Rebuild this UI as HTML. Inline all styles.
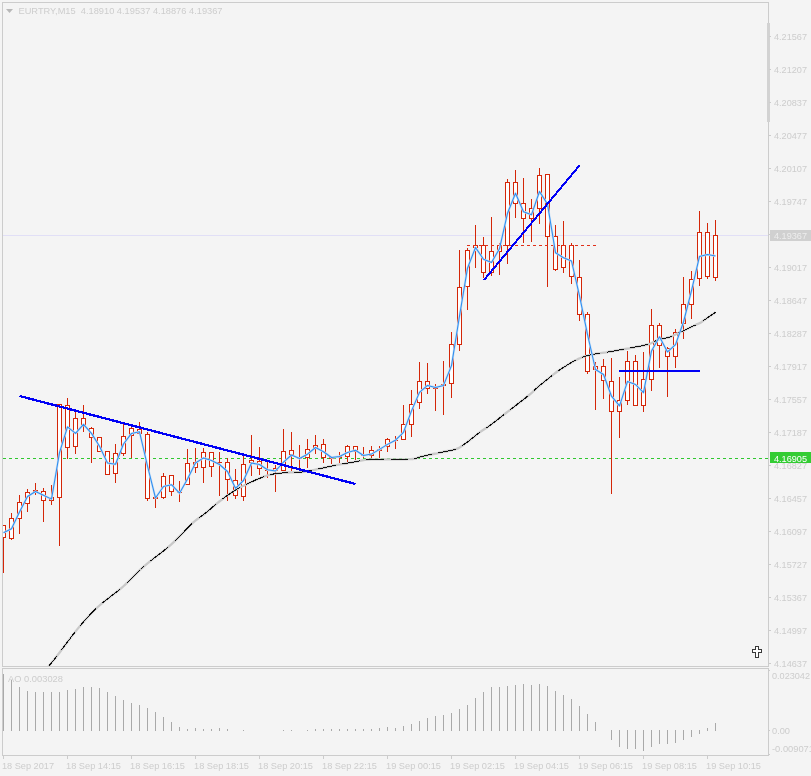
<!DOCTYPE html>
<html><head><meta charset="utf-8"><title>EURTRY,M15</title>
<style>
html,body{margin:0;padding:0;background:#f4f4f4;}
body{width:811px;height:776px;overflow:hidden;}
svg{display:block;}
text{font-family:"Liberation Sans",sans-serif;font-size:9.7px;fill:#cdcdcd;}
</style></head><body>
<svg width="811" height="776" viewBox="0 0 811 776">
<rect x="0" y="0" width="811" height="776" fill="#f4f4f4"/>
<g shape-rendering="crispEdges" fill="none" stroke="#cccccc" stroke-width="1">
<path d="M2.5 666.5 V2.5 H768.5 V666.5 H2.5"/>
<path d="M2.5 755.5 V668.5 H768.5 V755.5 H2.5"/>
</g>
<rect x="767" y="23" width="3" height="99" fill="#d2d2d2" shape-rendering="crispEdges"/>
<g shape-rendering="crispEdges" stroke="#cccccc" stroke-width="1">
<path d="M769 36.5 h2"/><path d="M769 69.5 h2"/><path d="M769 102.5 h2"/><path d="M769 135.5 h2"/><path d="M769 168.5 h2"/><path d="M769 201.5 h2"/><path d="M769 234.5 h2"/><path d="M769 267.5 h2"/><path d="M769 300.5 h2"/><path d="M769 333.5 h2"/><path d="M769 366.5 h2"/><path d="M769 399.5 h2"/><path d="M769 432.5 h2"/><path d="M769 465.5 h2"/><path d="M769 498.5 h2"/><path d="M769 531.5 h2"/><path d="M769 564.5 h2"/><path d="M769 597.5 h2"/><path d="M769 630.5 h2"/><path d="M769 663.5 h2"/><path d="M769 730.5 h1"/><path d="M769 754.5 h1"/><path d="M769 670.5 h1"/>
</g>
<g>
<text x="774" y="40" textLength="33" lengthAdjust="spacingAndGlyphs">4.21567</text>
<text x="774" y="73" textLength="33" lengthAdjust="spacingAndGlyphs">4.21207</text>
<text x="774" y="106" textLength="33" lengthAdjust="spacingAndGlyphs">4.20837</text>
<text x="774" y="139" textLength="33" lengthAdjust="spacingAndGlyphs">4.20477</text>
<text x="774" y="172" textLength="33" lengthAdjust="spacingAndGlyphs">4.20107</text>
<text x="774" y="205" textLength="33" lengthAdjust="spacingAndGlyphs">4.19747</text>
<text x="774" y="271" textLength="33" lengthAdjust="spacingAndGlyphs">4.19017</text>
<text x="774" y="304" textLength="33" lengthAdjust="spacingAndGlyphs">4.18647</text>
<text x="774" y="337" textLength="33" lengthAdjust="spacingAndGlyphs">4.18287</text>
<text x="774" y="370" textLength="33" lengthAdjust="spacingAndGlyphs">4.17917</text>
<text x="774" y="403" textLength="33" lengthAdjust="spacingAndGlyphs">4.17557</text>
<text x="774" y="436" textLength="33" lengthAdjust="spacingAndGlyphs">4.17187</text>
<text x="774" y="469" textLength="33" lengthAdjust="spacingAndGlyphs">4.16827</text>
<text x="774" y="502" textLength="33" lengthAdjust="spacingAndGlyphs">4.16457</text>
<text x="774" y="535" textLength="33" lengthAdjust="spacingAndGlyphs">4.16097</text>
<text x="774" y="568" textLength="33" lengthAdjust="spacingAndGlyphs">4.15727</text>
<text x="774" y="601" textLength="33" lengthAdjust="spacingAndGlyphs">4.15367</text>
<text x="774" y="634" textLength="33" lengthAdjust="spacingAndGlyphs">4.14997</text>
<text x="774" y="667" textLength="33" lengthAdjust="spacingAndGlyphs">4.14637</text>
<text x="772" y="679" textLength="38" lengthAdjust="spacingAndGlyphs">0.023042</text>
<text x="772" y="734" textLength="18" lengthAdjust="spacingAndGlyphs">0.00</text>
<text x="772" y="752" textLength="42" lengthAdjust="spacingAndGlyphs">-0.009071</text>
</g>
<g shape-rendering="crispEdges">
<rect x="3" y="235" width="765" height="1" fill="#e1dff6"/>
<rect x="770" y="230" width="41" height="11" fill="#d0d0d0"/>
<path d="M3 458.5 H768" stroke="#2fc72f" stroke-width="1" stroke-dasharray="3 3" fill="none"/>
<rect x="770" y="452" width="41" height="11" fill="#33cc33"/>
</g>
<text x="774" y="239" textLength="33" lengthAdjust="spacingAndGlyphs" style="fill:#ededed">4.19367</text>
<text x="774" y="461.5" textLength="33" lengthAdjust="spacingAndGlyphs" style="fill:#ffffff">4.16905</text>
<defs><clipPath id="cm"><rect x="3" y="3" width="765" height="663"/></clipPath></defs>
<g clip-path="url(#cm)">
<g shape-rendering="crispEdges" fill="#d42608">
<rect x="3" y="538" width="1" height="35"/><rect x="1" y="525" width="5" height="13"/><rect x="2" y="526" width="3" height="11" fill="#ffffff"/>
<rect x="11" y="513" width="1" height="5"/><rect x="11" y="539" width="1" height="1"/><rect x="9" y="518" width="5" height="21"/><rect x="10" y="519" width="3" height="19" fill="#ffffff"/>
<rect x="19" y="495" width="1" height="7"/><rect x="19" y="519" width="1" height="15"/><rect x="17" y="502" width="5" height="17"/><rect x="18" y="503" width="3" height="15" fill="#ffffff"/>
<rect x="27" y="489" width="1" height="3"/><rect x="27" y="504" width="1" height="8"/><rect x="25" y="492" width="5" height="12"/><rect x="26" y="493" width="3" height="10" fill="#ffffff"/>
<rect x="35" y="483" width="1" height="7"/><rect x="35" y="493" width="1" height="2"/><rect x="33" y="490" width="5" height="3"/><rect x="34" y="491" width="3" height="1" fill="#ffffff"/>
<rect x="43" y="488" width="1" height="3"/><rect x="43" y="501" width="1" height="21"/><rect x="41" y="491" width="5" height="10"/><rect x="42" y="492" width="3" height="8" fill="#ffffff"/>
<rect x="51" y="485" width="1" height="12"/><rect x="51" y="501" width="1" height="4"/><rect x="49" y="497" width="5" height="4"/><rect x="50" y="498" width="3" height="2" fill="#ffffff"/>
<rect x="59" y="498" width="1" height="48"/><rect x="57" y="404" width="5" height="94"/><rect x="58" y="405" width="3" height="92" fill="#ffffff"/>
<rect x="67" y="398" width="1" height="7"/><rect x="67" y="448" width="1" height="11"/><rect x="65" y="405" width="5" height="43"/><rect x="66" y="406" width="3" height="41" fill="#ffffff"/>
<rect x="75" y="411" width="1" height="7"/><rect x="75" y="447" width="1" height="7"/><rect x="73" y="418" width="5" height="29"/><rect x="74" y="419" width="3" height="27" fill="#ffffff"/>
<rect x="83" y="405" width="1" height="13"/><rect x="83" y="427" width="1" height="5"/><rect x="81" y="418" width="5" height="9"/><rect x="82" y="419" width="3" height="7" fill="#ffffff"/>
<rect x="91" y="427" width="1" height="1"/><rect x="91" y="438" width="1" height="25"/><rect x="89" y="428" width="5" height="10"/><rect x="90" y="429" width="3" height="8" fill="#ffffff"/>
<rect x="97" y="437" width="5" height="15"/><rect x="98" y="438" width="3" height="13" fill="#ffffff"/>
<rect x="105" y="451" width="5" height="24"/><rect x="106" y="452" width="3" height="22" fill="#ffffff"/>
<rect x="115" y="444" width="1" height="9"/><rect x="115" y="474" width="1" height="9"/><rect x="113" y="453" width="5" height="21"/><rect x="114" y="454" width="3" height="19" fill="#ffffff"/>
<rect x="123" y="424" width="1" height="12"/><rect x="123" y="454" width="1" height="2"/><rect x="121" y="436" width="5" height="18"/><rect x="122" y="437" width="3" height="16" fill="#ffffff"/>
<rect x="131" y="426" width="1" height="2"/><rect x="131" y="436" width="1" height="22"/><rect x="129" y="428" width="5" height="8"/><rect x="130" y="429" width="3" height="6" fill="#ffffff"/>
<rect x="139" y="422" width="1" height="7"/><rect x="139" y="434" width="1" height="1"/><rect x="137" y="429" width="5" height="5"/><rect x="138" y="430" width="3" height="3" fill="#ffffff"/>
<rect x="147" y="432" width="1" height="2"/><rect x="147" y="499" width="1" height="2"/><rect x="145" y="434" width="5" height="65"/><rect x="146" y="435" width="3" height="63" fill="#ffffff"/>
<rect x="155" y="496" width="1" height="1"/><rect x="155" y="499" width="1" height="9"/><rect x="153" y="497" width="5" height="2"/>
<rect x="163" y="473" width="1" height="3"/><rect x="163" y="498" width="1" height="1"/><rect x="161" y="476" width="5" height="22"/><rect x="162" y="477" width="3" height="20" fill="#ffffff"/>
<rect x="171" y="492" width="1" height="4"/><rect x="169" y="475" width="5" height="17"/><rect x="170" y="476" width="3" height="15" fill="#ffffff"/>
<rect x="179" y="481" width="1" height="11"/><rect x="179" y="493" width="1" height="9"/><rect x="177" y="492" width="5" height="1"/>
<rect x="187" y="449" width="1" height="14"/><rect x="185" y="463" width="5" height="22"/><rect x="186" y="464" width="3" height="20" fill="#ffffff"/>
<rect x="195" y="448" width="1" height="14"/><rect x="195" y="468" width="1" height="5"/><rect x="193" y="462" width="5" height="6"/><rect x="194" y="463" width="3" height="4" fill="#ffffff"/>
<rect x="203" y="448" width="1" height="4"/><rect x="203" y="468" width="1" height="15"/><rect x="201" y="452" width="5" height="16"/><rect x="202" y="453" width="3" height="14" fill="#ffffff"/>
<rect x="211" y="467" width="1" height="10"/><rect x="209" y="452" width="5" height="15"/><rect x="210" y="453" width="3" height="13" fill="#ffffff"/>
<rect x="219" y="452" width="1" height="10"/><rect x="219" y="463" width="1" height="33"/><rect x="217" y="462" width="5" height="1"/>
<rect x="227" y="458" width="1" height="4"/><rect x="227" y="480" width="1" height="21"/><rect x="225" y="462" width="5" height="18"/><rect x="226" y="463" width="3" height="16" fill="#ffffff"/>
<rect x="235" y="469" width="1" height="11"/><rect x="235" y="496" width="1" height="3"/><rect x="233" y="480" width="5" height="16"/><rect x="234" y="481" width="3" height="14" fill="#ffffff"/>
<rect x="243" y="456" width="1" height="8"/><rect x="243" y="497" width="1" height="4"/><rect x="241" y="464" width="5" height="33"/><rect x="242" y="465" width="3" height="31" fill="#ffffff"/>
<rect x="251" y="435" width="1" height="25"/><rect x="251" y="463" width="1" height="13"/><rect x="249" y="460" width="5" height="3"/><rect x="250" y="461" width="3" height="1" fill="#ffffff"/>
<rect x="259" y="447" width="1" height="14"/><rect x="259" y="469" width="1" height="6"/><rect x="257" y="461" width="5" height="8"/><rect x="258" y="462" width="3" height="6" fill="#ffffff"/>
<rect x="267" y="461" width="1" height="9"/><rect x="267" y="471" width="1" height="7"/><rect x="265" y="470" width="5" height="1"/>
<rect x="275" y="465" width="1" height="3"/><rect x="275" y="471" width="1" height="21"/><rect x="273" y="468" width="5" height="3"/><rect x="274" y="469" width="3" height="1" fill="#ffffff"/>
<rect x="283" y="429" width="1" height="22"/><rect x="281" y="451" width="5" height="20"/><rect x="282" y="452" width="3" height="18" fill="#ffffff"/>
<rect x="291" y="432" width="1" height="18"/><rect x="291" y="455" width="1" height="16"/><rect x="289" y="450" width="5" height="5"/><rect x="290" y="451" width="3" height="3" fill="#ffffff"/>
<rect x="299" y="445" width="1" height="12"/><rect x="299" y="459" width="1" height="9"/><rect x="297" y="457" width="5" height="2"/>
<rect x="307" y="439" width="1" height="10"/><rect x="307" y="458" width="1" height="10"/><rect x="305" y="449" width="5" height="9"/><rect x="306" y="450" width="3" height="7" fill="#ffffff"/>
<rect x="315" y="435" width="1" height="10"/><rect x="315" y="448" width="1" height="6"/><rect x="313" y="445" width="5" height="3"/><rect x="314" y="446" width="3" height="1" fill="#ffffff"/>
<rect x="323" y="439" width="1" height="5"/><rect x="323" y="458" width="1" height="5"/><rect x="321" y="444" width="5" height="14"/><rect x="322" y="445" width="3" height="12" fill="#ffffff"/>
<rect x="331" y="456" width="1" height="1"/><rect x="331" y="459" width="1" height="5"/><rect x="329" y="457" width="5" height="2"/>
<rect x="339" y="452" width="1" height="4"/><rect x="339" y="458" width="1" height="5"/><rect x="337" y="456" width="5" height="2"/>
<rect x="347" y="445" width="1" height="1"/><rect x="347" y="457" width="1" height="5"/><rect x="345" y="446" width="5" height="11"/><rect x="346" y="447" width="3" height="9" fill="#ffffff"/>
<rect x="355" y="452" width="1" height="8"/><rect x="353" y="446" width="5" height="6"/><rect x="354" y="447" width="3" height="4" fill="#ffffff"/>
<rect x="363" y="447" width="1" height="7"/><rect x="363" y="456" width="1" height="2"/><rect x="361" y="454" width="5" height="2"/>
<rect x="371" y="446" width="1" height="4"/><rect x="371" y="456" width="1" height="2"/><rect x="369" y="450" width="5" height="6"/><rect x="370" y="451" width="3" height="4" fill="#ffffff"/>
<rect x="379" y="446" width="1" height="3"/><rect x="379" y="451" width="1" height="7"/><rect x="377" y="449" width="5" height="2"/>
<rect x="387" y="438" width="1" height="1"/><rect x="387" y="447" width="1" height="5"/><rect x="385" y="439" width="5" height="8"/><rect x="386" y="440" width="3" height="6" fill="#ffffff"/>
<rect x="395" y="436" width="1" height="4"/><rect x="395" y="441" width="1" height="8"/><rect x="393" y="440" width="5" height="1"/>
<rect x="403" y="405" width="1" height="19"/><rect x="401" y="424" width="5" height="16"/><rect x="402" y="425" width="3" height="14" fill="#ffffff"/>
<rect x="411" y="390" width="1" height="14"/><rect x="411" y="425" width="1" height="12"/><rect x="409" y="404" width="5" height="21"/><rect x="410" y="405" width="3" height="19" fill="#ffffff"/>
<rect x="419" y="362" width="1" height="19"/><rect x="419" y="403" width="1" height="6"/><rect x="417" y="381" width="5" height="22"/><rect x="418" y="382" width="3" height="20" fill="#ffffff"/>
<rect x="427" y="363" width="1" height="18"/><rect x="427" y="389" width="1" height="5"/><rect x="425" y="381" width="5" height="8"/><rect x="426" y="382" width="3" height="6" fill="#ffffff"/>
<rect x="435" y="384" width="1" height="4"/><rect x="435" y="389" width="1" height="22"/><rect x="433" y="388" width="5" height="1"/>
<rect x="443" y="361" width="1" height="23"/><rect x="443" y="386" width="1" height="29"/><rect x="441" y="384" width="5" height="2"/>
<rect x="451" y="332" width="1" height="12"/><rect x="451" y="384" width="1" height="14"/><rect x="449" y="344" width="5" height="40"/><rect x="450" y="345" width="3" height="38" fill="#ffffff"/>
<rect x="459" y="250" width="1" height="37"/><rect x="459" y="345" width="1" height="6"/><rect x="457" y="287" width="5" height="58"/><rect x="458" y="288" width="3" height="56" fill="#ffffff"/>
<rect x="467" y="248" width="1" height="2"/><rect x="467" y="287" width="1" height="23"/><rect x="465" y="250" width="5" height="37"/><rect x="466" y="251" width="3" height="35" fill="#ffffff"/>
<rect x="475" y="225" width="1" height="20"/><rect x="475" y="248" width="1" height="20"/><rect x="473" y="245" width="5" height="3"/><rect x="474" y="246" width="3" height="1" fill="#ffffff"/>
<rect x="483" y="237" width="1" height="8"/><rect x="483" y="273" width="1" height="5"/><rect x="481" y="245" width="5" height="28"/><rect x="482" y="246" width="3" height="26" fill="#ffffff"/>
<rect x="491" y="217" width="1" height="34"/><rect x="491" y="273" width="1" height="3"/><rect x="489" y="251" width="5" height="22"/><rect x="490" y="252" width="3" height="20" fill="#ffffff"/>
<rect x="499" y="243" width="1" height="2"/><rect x="499" y="252" width="1" height="23"/><rect x="497" y="245" width="5" height="7"/><rect x="498" y="246" width="3" height="5" fill="#ffffff"/>
<rect x="507" y="179" width="1" height="3"/><rect x="507" y="246" width="1" height="18"/><rect x="505" y="182" width="5" height="64"/><rect x="506" y="183" width="3" height="62" fill="#ffffff"/>
<rect x="515" y="170" width="1" height="12"/><rect x="515" y="204" width="1" height="14"/><rect x="513" y="182" width="5" height="22"/><rect x="514" y="183" width="3" height="20" fill="#ffffff"/>
<rect x="523" y="178" width="1" height="25"/><rect x="523" y="219" width="1" height="24"/><rect x="521" y="203" width="5" height="16"/><rect x="522" y="204" width="3" height="14" fill="#ffffff"/>
<rect x="531" y="199" width="1" height="9"/><rect x="531" y="219" width="1" height="23"/><rect x="529" y="208" width="5" height="11"/><rect x="530" y="209" width="3" height="9" fill="#ffffff"/>
<rect x="539" y="168" width="1" height="7"/><rect x="539" y="209" width="1" height="15"/><rect x="537" y="175" width="5" height="34"/><rect x="538" y="176" width="3" height="32" fill="#ffffff"/>
<rect x="547" y="237" width="1" height="50"/><rect x="545" y="174" width="5" height="63"/><rect x="546" y="175" width="3" height="61" fill="#ffffff"/>
<rect x="555" y="225" width="1" height="11"/><rect x="555" y="270" width="1" height="1"/><rect x="553" y="236" width="5" height="34"/><rect x="554" y="237" width="3" height="32" fill="#ffffff"/>
<rect x="563" y="221" width="1" height="24"/><rect x="563" y="268" width="1" height="5"/><rect x="561" y="245" width="5" height="23"/><rect x="562" y="246" width="3" height="21" fill="#ffffff"/>
<rect x="571" y="243" width="1" height="2"/><rect x="571" y="277" width="1" height="7"/><rect x="569" y="245" width="5" height="32"/><rect x="570" y="246" width="3" height="30" fill="#ffffff"/>
<rect x="579" y="260" width="1" height="17"/><rect x="579" y="315" width="1" height="6"/><rect x="577" y="277" width="5" height="38"/><rect x="578" y="278" width="3" height="36" fill="#ffffff"/>
<rect x="587" y="312" width="1" height="2"/><rect x="587" y="372" width="1" height="2"/><rect x="585" y="314" width="5" height="58"/><rect x="586" y="315" width="3" height="56" fill="#ffffff"/>
<rect x="595" y="362" width="1" height="4"/><rect x="595" y="370" width="1" height="40"/><rect x="593" y="366" width="5" height="4"/><rect x="594" y="367" width="3" height="2" fill="#ffffff"/>
<rect x="603" y="359" width="1" height="7"/><rect x="603" y="381" width="1" height="18"/><rect x="601" y="366" width="5" height="15"/><rect x="602" y="367" width="3" height="13" fill="#ffffff"/>
<rect x="611" y="358" width="1" height="23"/><rect x="611" y="412" width="1" height="82"/><rect x="609" y="381" width="5" height="31"/><rect x="610" y="382" width="3" height="29" fill="#ffffff"/>
<rect x="619" y="377" width="1" height="23"/><rect x="619" y="412" width="1" height="26"/><rect x="617" y="400" width="5" height="12"/><rect x="618" y="401" width="3" height="10" fill="#ffffff"/>
<rect x="627" y="351" width="1" height="10"/><rect x="627" y="401" width="1" height="4"/><rect x="625" y="361" width="5" height="40"/><rect x="626" y="362" width="3" height="38" fill="#ffffff"/>
<rect x="635" y="355" width="1" height="6"/><rect x="633" y="361" width="5" height="45"/><rect x="634" y="362" width="3" height="43" fill="#ffffff"/>
<rect x="643" y="352" width="1" height="27"/><rect x="643" y="406" width="1" height="6"/><rect x="641" y="379" width="5" height="27"/><rect x="642" y="380" width="3" height="25" fill="#ffffff"/>
<rect x="651" y="309" width="1" height="16"/><rect x="651" y="380" width="1" height="11"/><rect x="649" y="325" width="5" height="55"/><rect x="650" y="326" width="3" height="53" fill="#ffffff"/>
<rect x="659" y="323" width="1" height="2"/><rect x="659" y="346" width="1" height="22"/><rect x="657" y="325" width="5" height="21"/><rect x="658" y="326" width="3" height="19" fill="#ffffff"/>
<rect x="667" y="347" width="1" height="1"/><rect x="667" y="357" width="1" height="40"/><rect x="665" y="348" width="5" height="9"/><rect x="666" y="349" width="3" height="7" fill="#ffffff"/>
<rect x="675" y="329" width="1" height="3"/><rect x="675" y="357" width="1" height="11"/><rect x="673" y="332" width="5" height="25"/><rect x="674" y="333" width="3" height="23" fill="#ffffff"/>
<rect x="683" y="277" width="1" height="27"/><rect x="683" y="324" width="1" height="15"/><rect x="681" y="304" width="5" height="20"/><rect x="682" y="305" width="3" height="18" fill="#ffffff"/>
<rect x="691" y="271" width="1" height="8"/><rect x="691" y="305" width="1" height="14"/><rect x="689" y="279" width="5" height="26"/><rect x="690" y="280" width="3" height="24" fill="#ffffff"/>
<rect x="699" y="211" width="1" height="21"/><rect x="699" y="279" width="1" height="7"/><rect x="697" y="232" width="5" height="47"/><rect x="698" y="233" width="3" height="45" fill="#ffffff"/>
<rect x="707" y="223" width="1" height="9"/><rect x="707" y="277" width="1" height="2"/><rect x="705" y="232" width="5" height="45"/><rect x="706" y="233" width="3" height="43" fill="#ffffff"/>
<rect x="715" y="220" width="1" height="15"/><rect x="715" y="278" width="1" height="3"/><rect x="713" y="235" width="5" height="43"/><rect x="714" y="236" width="3" height="41" fill="#ffffff"/>
</g>
<path d="M467 245.5 H596" stroke="#e0301a" stroke-width="1" stroke-dasharray="3 3" fill="none" shape-rendering="crispEdges"/>
<path d="M48.5 666.5 L49.3 665.5 L50.2 664.4 L51.4 662.9 L52.9 661.1 L54.8 658.7 L57.1 655.8 L60.0 652.0 L63.5 647.3 L67.3 642.2 L71.3 636.9 L75.2 631.9 L78.8 627.4 L82.1 623.5 L85.2 619.9 L88.3 616.5 L91.4 613.3 L94.5 610.1 L97.8 607.0 L101.4 603.8 L105.2 600.7 L109.2 597.6 L113.0 594.7 L116.5 592.0 L119.5 589.6 L121.9 587.6 L123.7 586.0 L125.2 584.6 L126.7 583.2 L128.2 581.7 L130.0 580.0 L132.0 578.0 L133.9 576.0 L136.0 573.9 L138.2 571.6 L140.9 569.1 L144.0 566.3 L147.8 563.1 L152.2 559.7 L157.0 555.9 L161.9 552.1 L166.7 548.3 L171.0 544.6 L175.0 540.8 L179.0 536.9 L182.8 533.0 L186.4 529.2 L189.8 525.8 L192.8 522.9 L195.4 520.7 L197.5 519.0 L199.4 517.6 L201.1 516.4 L203.0 515.1 L205.0 513.5 L207.3 511.6 L209.7 509.6 L212.1 507.5 L214.6 505.4 L217.0 503.4 L219.3 501.5 L221.6 499.8 L223.8 498.1 L226.0 496.4 L228.2 494.9 L230.2 493.5 L232.0 492.3 L233.5 491.3 L234.6 490.5 L235.7 489.9 L236.8 489.3 L238.1 488.6 L240.0 487.6 L242.5 486.3 L245.4 484.9 L248.6 483.3 L251.9 481.7 L255.1 480.3 L258.0 479.0 L260.5 478.0 L262.9 477.0 L265.1 476.2 L267.3 475.5 L269.6 474.9 L272.0 474.3 L274.6 473.8 L277.2 473.4 L279.9 473.1 L282.6 472.9 L285.3 472.7 L288.0 472.5 L290.7 472.3 L293.3 472.3 L296.0 472.2 L298.7 472.2 L301.3 472.0 L304.0 471.8 L306.7 471.4 L309.3 470.9 L312.0 470.4 L314.7 469.8 L317.3 469.2 L320.0 468.6 L322.7 468.0 L325.3 467.5 L328.0 466.9 L330.7 466.3 L333.3 465.7 L336.0 465.2 L338.7 464.7 L341.3 464.2 L344.0 463.8 L346.7 463.3 L349.3 462.9 L352.0 462.4 L354.6 461.9 L357.1 461.4 L359.6 460.8 L362.2 460.3 L365.0 459.9 L368.0 459.6 L371.4 459.4 L375.1 459.3 L379.0 459.3 L382.9 459.3 L386.6 459.3 L390.0 459.3 L393.1 459.3 L396.0 459.3 L398.8 459.3 L401.4 459.3 L403.8 459.3 L406.0 459.3 L408.0 459.2 L409.7 459.2 L411.2 459.1 L412.6 459.0 L413.8 458.9 L415.0 458.7 L415.9 458.5 L416.4 458.3 L416.8 458.0 L417.4 457.7 L418.3 457.4 L420.0 456.9 L422.5 456.3 L425.8 455.6 L429.4 454.8 L433.2 454.0 L436.9 453.3 L440.0 452.6 L442.7 452.0 L445.3 451.5 L447.8 451.0 L450.0 450.6 L452.0 450.1 L453.8 449.7 L455.2 449.3 L456.3 449.0 L457.1 448.7 L457.9 448.4 L458.8 447.9 L460.0 447.2 L461.4 446.3 L463.1 445.2 L464.8 443.9 L466.5 442.6 L468.3 441.3 L470.0 440.0 L471.7 438.7 L473.3 437.4 L475.0 436.0 L476.7 434.7 L478.3 433.4 L480.0 432.1 L481.6 431.0 L483.1 430.0 L484.6 429.0 L486.2 428.0 L488.0 426.8 L490.0 425.4 L492.2 423.7 L494.6 421.9 L497.2 419.9 L500.0 417.7 L502.9 415.4 L506.0 413.0 L509.5 410.3 L513.5 407.2 L517.6 404.0 L521.7 400.9 L525.4 398.0 L528.5 395.5 L530.8 393.6 L532.5 392.1 L533.8 390.8 L535.1 389.6 L536.5 388.2 L538.5 386.5 L541.1 384.4 L544.1 381.9 L547.3 379.3 L550.5 376.8 L553.5 374.4 L556.0 372.5 L558.0 371.0 L559.6 369.9 L561.0 369.0 L562.2 368.2 L563.5 367.4 L565.0 366.5 L566.6 365.5 L568.3 364.4 L569.9 363.4 L571.6 362.4 L573.3 361.4 L575.0 360.5 L576.7 359.7 L578.3 358.9 L580.0 358.2 L581.7 357.5 L583.3 356.9 L585.0 356.3 L586.7 355.8 L588.3 355.4 L589.9 355.0 L591.6 354.7 L593.3 354.3 L595.0 354.0 L596.7 353.7 L598.5 353.4 L600.2 353.2 L602.0 352.9 L603.9 352.6 L606.0 352.3 L608.3 351.9 L610.8 351.5 L613.3 351.1 L615.9 350.6 L618.4 350.2 L620.6 349.8 L622.5 349.5 L624.2 349.2 L625.8 348.9 L627.4 348.6 L629.1 348.3 L631.0 347.9 L633.3 347.5 L635.9 346.9 L638.6 346.4 L641.2 345.9 L643.5 345.4 L645.4 345.0 L646.7 344.7 L647.5 344.6 L648.0 344.5 L648.5 344.4 L649.1 344.2 L650.0 343.8 L651.2 343.3 L652.5 342.6 L654.0 341.8 L655.5 341.0 L657.1 340.2 L658.8 339.6 L660.6 339.1 L662.5 338.6 L664.5 338.3 L666.5 337.9 L668.4 337.4 L670.2 336.9 L671.9 336.2 L673.5 335.5 L675.0 334.7 L676.5 333.9 L677.8 333.2 L679.0 332.6 L679.9 332.2 L680.6 331.9 L681.1 331.7 L681.7 331.5 L682.5 331.2 L683.6 330.7 L685.2 330.0 L687.1 329.0 L689.3 328.0 L691.4 326.9 L693.4 326.0 L695.0 325.2 L696.2 324.6 L697.2 324.2 L698.1 323.9 L698.8 323.5 L699.6 323.2 L700.4 322.7 L701.3 322.2 L702.1 321.6 L702.9 321.0 L703.8 320.3 L704.8 319.6 L706.0 318.8 L707.5 317.8 L709.2 316.6 L711.1 315.3 L712.9 314.1 L714.4 313.0 L715.5 312.3" fill="none" stroke="#c9c9c9" stroke-width="2.3" stroke-linecap="butt"/>
<path d="M48.5 666.5 L49.3 665.5 L49.9 664.8 L50.6 663.9 L51.4 662.9 L52.2 662.0 L52.9 661.1 L53.7 660.1 L54.4 659.2 L55.1 658.3 L55.8 657.5 L56.4 656.6 L56.8 656.2 M61.6 649.9 L62.2 649.0 L62.8 648.2 L63.5 647.3 L64.1 646.5 L64.7 645.6 L65.4 644.8 L66.0 643.9 L66.7 643.1 L67.3 642.2 L67.9 641.4 L68.5 640.6 L69.1 639.8 L69.8 639.0 L70.4 638.1 L71.0 637.3 L71.6 636.5 L72.3 635.7 L72.9 634.8 L73.6 634.0 L74.2 633.1 L74.9 632.3 L74.9 632.3 M80.1 625.8 L80.8 625.1 L81.4 624.3 L82.1 623.5 L82.8 622.7 L83.5 621.9 L84.2 621.1 L84.9 620.3 L85.6 619.5 L86.3 618.8 L86.9 618.0 L87.6 617.3 L88.3 616.5 L89.1 615.7 L89.8 614.9 L90.6 614.1 L91.4 613.3 L92.2 612.5 L92.9 611.7 L93.7 610.9 L94.5 610.1 L95.2 609.4 L96.0 608.7 L96.3 608.4 M102.7 602.8 L103.5 602.1 L104.4 601.4 L105.2 600.7 L106.1 600.0 L107.0 599.3 L107.9 598.6 L108.7 598.0 L109.6 597.3 L110.5 596.7 L111.3 596.0 L112.1 595.4 L113.0 594.7 L113.9 594.0 L114.7 593.4 L115.6 592.7 L116.5 592.0 L117.4 591.3 L118.2 590.6 L119.1 589.9 L119.9 589.3 L120.3 588.9 M126.7 583.2 L127.4 582.5 L128.2 581.7 L128.9 581.0 L129.6 580.3 L130.4 579.6 L131.2 578.8 L132.0 578.0 L132.8 577.2 L133.5 576.4 L134.3 575.6 L135.2 574.8 L136.0 573.9 L136.7 573.1 L137.5 572.4 L138.2 571.6 L139.0 570.9 L139.7 570.2 L140.5 569.5 L141.3 568.7 L142.0 568.0 L142.8 567.3 L143.6 566.6 L144.4 565.9 L144.4 565.9 M150.6 560.9 L151.4 560.3 L152.2 559.7 L153.0 559.0 L153.8 558.4 L154.6 557.8 L155.4 557.2 L156.2 556.6 L157.0 555.9 L157.8 555.3 L158.6 554.7 L159.5 554.0 L160.3 553.4 L161.1 552.8 L161.9 552.1 L162.7 551.5 L163.5 550.9 L164.3 550.2 L165.1 549.6 L165.9 548.9 L166.7 548.3 L167.4 547.6 L168.2 547.0 L168.2 547.0 M174.7 541.2 L175.4 540.5 L176.1 539.8 L176.8 539.1 L177.6 538.3 L178.3 537.6 L179.0 536.9 L179.8 536.1 L180.5 535.3 L181.3 534.6 L182.1 533.8 L182.8 533.0 L183.5 532.2 L184.3 531.5 L185.0 530.7 L185.7 530.0 L186.4 529.2 L187.2 528.5 L187.9 527.7 L188.7 526.9 L189.4 526.2 L190.2 525.4 L190.9 524.7 L191.7 524.0 L192.0 523.6 M198.4 518.3 L199.4 517.6 L200.3 517.0 L201.1 516.4 L202.0 515.7 L203.0 515.1 L203.8 514.4 L204.6 513.8 L205.5 513.1 L206.4 512.4 L207.3 511.6 L208.1 510.9 L208.9 510.3 L209.7 509.6 L210.5 508.9 L211.3 508.2 L212.1 507.5 L212.9 506.8 L213.8 506.1 L214.6 505.4 L215.4 504.7 L215.8 504.4 M222.5 499.1 L223.4 498.4 L224.3 497.7 L225.2 497.1 L226.0 496.4 L226.9 495.8 L227.7 495.2 L228.7 494.6 L229.7 493.9 L230.6 493.2 L231.5 492.6 L232.5 492.0 L233.5 491.3 L234.6 490.5 L235.7 489.9 L236.8 489.3 L237.7 488.8 L238.6 488.3 L239.5 487.8 L240.0 487.6 M246.3 484.4 L247.2 484.0 L248.2 483.5 L249.1 483.1 L250.0 482.6 L251.0 482.2 L251.9 481.7 L252.8 481.3 L253.7 480.9 L254.7 480.5 L255.6 480.0 L256.6 479.6 L257.5 479.2 L258.5 478.8 L259.5 478.4 L260.5 478.0 L261.5 477.6 L262.4 477.2 L263.4 476.8 L264.0 476.6 M270.2 474.7 L271.4 474.4 L272.5 474.2 L273.5 474.0 L274.6 473.8 L275.6 473.7 L276.7 473.5 L277.7 473.4 L278.8 473.3 L279.9 473.1 L281.0 473.1 L282.0 473.0 L283.1 472.9 L284.2 472.8 L285.3 472.7 L286.4 472.6 L287.5 472.5 L288.0 472.5 M294.4 472.3 L295.5 472.2 L296.5 472.2 L297.6 472.2 L298.7 472.2 L299.7 472.1 L300.8 472.1 L301.9 472.0 L302.9 471.9 L304.0 471.8 L305.1 471.6 L306.1 471.5 L307.2 471.3 L308.3 471.1 L309.3 470.9 L310.4 470.7 L311.5 470.5 L312.0 470.4 M318.4 468.9 L319.5 468.7 L320.5 468.5 L321.6 468.3 L322.7 468.0 L323.7 467.8 L324.8 467.6 L325.9 467.3 L326.9 467.1 L328.0 466.9 L329.1 466.6 L330.1 466.4 L331.2 466.2 L332.3 466.0 L333.3 465.7 L334.4 465.5 L335.5 465.3 L336.0 465.2 M342.4 464.0 L343.5 463.9 L344.5 463.7 L345.6 463.5 L346.7 463.3 L347.7 463.1 L348.8 462.9 L349.9 462.8 L350.9 462.6 L352.0 462.4 L353.0 462.2 L354.1 462.0 L355.1 461.8 L356.1 461.6 L357.1 461.4 L358.1 461.2 L359.1 460.9 L359.6 460.8 M366.5 459.8 L367.5 459.7 L368.6 459.6 L369.7 459.5 L370.8 459.4 L371.9 459.4 L373.0 459.4 L374.0 459.3 L375.1 459.3 L376.2 459.3 L377.3 459.3 L378.4 459.3 L379.6 459.3 L380.7 459.3 L381.8 459.3 L382.9 459.3 L384.0 459.3 L384.0 459.3 M390.5 459.3 L391.5 459.3 L392.6 459.3 L393.7 459.3 L394.9 459.3 L396.0 459.3 L397.1 459.3 L398.3 459.3 L399.3 459.3 L400.4 459.3 L401.4 459.3 L402.6 459.3 L403.8 459.3 L404.9 459.3 L406.0 459.3 L407.3 459.3 L408.0 459.2 M414.4 458.8 L415.9 458.5 L416.8 458.0 L417.9 457.5 L418.9 457.2 L420.0 456.9 L421.0 456.7 L422.0 456.4 L423.1 456.2 L424.2 456.0 L425.2 455.7 L426.3 455.5 L427.4 455.3 L428.4 455.0 L429.4 454.8 L430.5 454.6 L431.6 454.4 L431.6 454.4 M438.4 452.9 L439.5 452.7 L440.5 452.5 L441.6 452.3 L442.7 452.0 L443.8 451.8 L444.8 451.6 L445.9 451.4 L447.2 451.2 L448.3 450.9 L449.4 450.7 L450.5 450.5 L451.5 450.3 L452.6 450.0 L453.8 449.7 L455.2 449.3 L455.8 449.2 M462.5 445.5 L463.5 444.9 L464.3 444.2 L465.2 443.6 L466.1 443.0 L467.0 442.3 L467.8 441.6 L468.7 441.0 L469.6 440.3 L470.4 439.7 L471.2 439.0 L472.1 438.4 L472.9 437.7 L473.8 437.0 L474.6 436.4 L475.4 435.7 L476.2 435.0 L477.1 434.3 L477.9 433.7 L478.8 433.0 L479.6 432.4 L480.0 432.1 M486.2 428.0 L487.1 427.4 L488.0 426.8 L489.0 426.1 L490.0 425.4 L490.9 424.7 L491.8 424.1 L492.6 423.4 L493.4 422.8 L494.2 422.2 L495.1 421.5 L495.9 420.9 L496.8 420.2 L497.7 419.5 L498.6 418.8 L499.5 418.1 L500.4 417.4 L501.2 416.7 L502.1 416.1 L502.9 415.4 L503.8 414.7 L503.8 414.7 M510.3 409.7 L511.1 409.1 L511.9 408.4 L512.7 407.8 L513.5 407.2 L514.3 406.6 L515.1 406.0 L516.0 405.3 L516.8 404.7 L517.6 404.0 L518.4 403.4 L519.2 402.8 L520.1 402.2 L520.9 401.5 L521.7 400.9 L522.5 400.2 L523.3 399.6 L524.2 399.0 L525.0 398.3 L525.8 397.6 L526.7 396.9 L527.6 396.2 L528.1 395.9 M534.2 390.4 L535.1 389.6 L535.8 388.9 L536.5 388.2 L537.3 387.5 L538.1 386.8 L538.9 386.1 L539.8 385.4 L540.7 384.7 L541.5 384.0 L542.4 383.3 L543.2 382.6 L544.1 381.9 L544.9 381.3 L545.7 380.6 L546.5 380.0 L547.3 379.3 L548.1 378.7 L548.9 378.0 L549.7 377.4 L550.5 376.8 L551.4 376.1 L551.8 375.8 M558.5 370.7 L559.6 369.9 L560.5 369.3 L561.4 368.7 L562.2 368.2 L563.1 367.7 L564.0 367.1 L565.0 366.5 L566.1 365.8 L567.2 365.1 L568.3 364.4 L569.4 363.7 L570.5 363.0 L571.6 362.4 L572.8 361.7 L573.9 361.1 L575.0 360.5 L576.1 359.9 L576.1 359.9 M582.2 357.3 L583.3 356.9 L584.4 356.5 L585.6 356.1 L586.7 355.8 L587.7 355.5 L588.8 355.2 L589.9 355.0 L591.0 354.8 L592.2 354.5 L593.3 354.3 L594.4 354.1 L595.6 353.9 L596.7 353.7 L597.9 353.5 L599.0 353.3 L599.6 353.2 M606.6 352.2 L607.7 352.0 L608.8 351.8 L609.8 351.7 L610.8 351.5 L611.8 351.3 L612.8 351.2 L613.9 351.0 L614.9 350.8 L615.9 350.6 L617.1 350.4 L618.4 350.2 L619.5 350.0 L620.6 349.8 L621.9 349.6 L623.1 349.4 L623.7 349.3 M630.4 348.0 L631.6 347.8 L632.7 347.6 L633.8 347.4 L634.8 347.1 L635.9 346.9 L636.9 346.7 L638.0 346.5 L639.1 346.3 L640.1 346.1 L641.2 345.9 L642.3 345.6 L643.5 345.4 L644.8 345.1 L646.0 344.9 L647.5 344.6 L648.0 344.5 M654.5 341.5 L655.5 341.0 L656.6 340.5 L657.7 340.0 L658.8 339.6 L660.0 339.3 L661.2 338.9 L662.5 338.6 L663.5 338.5 L664.5 338.3 L665.5 338.1 L666.5 337.9 L667.8 337.6 L669.0 337.3 L670.2 336.9 L671.3 336.5 L671.9 336.2 M678.4 332.9 L679.5 332.4 L680.6 331.9 L681.7 331.5 L683.0 330.9 L684.1 330.5 L685.2 330.0 L686.1 329.5 L687.1 329.0 L688.2 328.5 L689.3 328.0 L690.3 327.5 L691.4 326.9 L692.4 326.5 L693.4 326.0 L694.5 325.5 L695.6 324.9 L695.6 324.9 M702.5 321.3 L703.4 320.7 L704.3 320.0 L705.4 319.2 L706.5 318.5 L707.5 317.8 L708.3 317.2 L709.2 316.6 L710.2 315.9 L711.1 315.3 L712.0 314.7 L712.9 314.1 L713.9 313.4 L715.0 312.7 L715.5 312.3" fill="none" stroke="#111111" stroke-width="1" shape-rendering="crispEdges"/>
<path d="M3.5 532.7 L11.5 528.8 L19.5 512.0 L27.5 496.5 L35.5 491.5 L43.5 495.3 L51.5 499.1 L59.5 452.7 L67.5 426.9 L75.5 433.4 L83.5 424.3 L91.5 433.4 L99.5 446.3 L107.5 463.0 L115.5 464.3 L123.5 444.0 L131.5 433.4 L139.5 431.8 L147.5 466.0 L155.5 498.0 L163.5 486.5 L171.5 484.7 L179.5 493.2 L187.5 479.0 L195.5 463.0 L203.5 457.9 L211.5 460.5 L219.5 464.5 L227.5 471.5 L235.5 488.3 L243.5 480.5 L251.5 463.0 L259.5 464.5 L267.5 469.8 L275.5 471.0 L283.5 462.2 L291.5 455.0 L299.5 458.5 L307.5 454.2 L315.5 447.5 L323.5 451.8 L331.5 457.5 L339.5 456.5 L347.5 452.5 L355.5 450.2 L363.5 455.5 L371.5 454.1 L379.5 449.4 L387.5 444.4 L395.5 440.2 L403.5 432.3 L411.5 410.9 L419.5 392.4 L427.5 385.4 L435.5 387.4 L443.5 385.4 L451.5 365.6 L459.5 316.0 L467.5 268.2 L475.5 247.5 L483.5 259.2 L491.5 262.5 L499.5 248.7 L507.5 213.3 L515.5 193.2 L523.5 211.7 L531.5 214.7 L539.5 191.5 L547.5 204.1 L555.5 252.7 L563.5 257.7 L571.5 261.0 L579.5 295.8 L587.5 334.3 L595.5 369.5 L603.5 374.5 L611.5 396.2 L619.5 405.9 L627.5 381.4 L635.5 384.5 L643.5 392.7 L651.5 350.9 L659.5 336.8 L667.5 351.9 L675.5 344.7 L683.5 322.0 L691.5 290.7 L699.5 256.4 L707.5 254.6 L715.5 255.9" fill="none" stroke="#cfe3f5" stroke-width="2.3" stroke-linejoin="round"/>
<path d="M3.5 532.7 L11.5 528.8 L19.5 512.0 L27.5 496.5 L35.5 491.5 L43.5 495.3 L51.5 499.1 L59.5 452.7 L67.5 426.9 L75.5 433.4 L83.5 424.3 L91.5 433.4 L99.5 446.3 L107.5 463.0 L115.5 464.3 L123.5 444.0 L131.5 433.4 L139.5 431.8 L147.5 466.0 L155.5 498.0 L163.5 486.5 L171.5 484.7 L179.5 493.2 L187.5 479.0 L195.5 463.0 L203.5 457.9 L211.5 460.5 L219.5 464.5 L227.5 471.5 L235.5 488.3 L243.5 480.5 L251.5 463.0 L259.5 464.5 L267.5 469.8 L275.5 471.0 L283.5 462.2 L291.5 455.0 L299.5 458.5 L307.5 454.2 L315.5 447.5 L323.5 451.8 L331.5 457.5 L339.5 456.5 L347.5 452.5 L355.5 450.2 L363.5 455.5 L371.5 454.1 L379.5 449.4 L387.5 444.4 L395.5 440.2 L403.5 432.3 L411.5 410.9 L419.5 392.4 L427.5 385.4 L435.5 387.4 L443.5 385.4 L451.5 365.6 L459.5 316.0 L467.5 268.2 L475.5 247.5 L483.5 259.2 L491.5 262.5 L499.5 248.7 L507.5 213.3 L515.5 193.2 L523.5 211.7 L531.5 214.7 L539.5 191.5 L547.5 204.1 L555.5 252.7 L563.5 257.7 L571.5 261.0 L579.5 295.8 L587.5 334.3 L595.5 369.5 L603.5 374.5 L611.5 396.2 L619.5 405.9 L627.5 381.4 L635.5 384.5 L643.5 392.7 L651.5 350.9 L659.5 336.8 L667.5 351.9 L675.5 344.7 L683.5 322.0 L691.5 290.7 L699.5 256.4 L707.5 254.6 L715.5 255.9" fill="none" stroke="#2d8df0" stroke-width="1.05" stroke-linejoin="round"/>
<g stroke="#0000f5" stroke-width="2" fill="none" shape-rendering="crispEdges">
<path d="M19.5 396 L355.5 484" stroke-width="2.3"/>
<path d="M484 280 L579.6 165.3"/>
<path d="M619 371 H700" shape-rendering="crispEdges" stroke-width="2"/>
</g>
</g>
<g shape-rendering="crispEdges" fill="#a9a9a9">
<rect x="3" y="674" width="1" height="57"/><rect x="11" y="680" width="1" height="51"/><rect x="19" y="687" width="1" height="44"/><rect x="27" y="691" width="1" height="40"/><rect x="35" y="692" width="1" height="39"/><rect x="43" y="692" width="1" height="39"/><rect x="51" y="692" width="1" height="39"/><rect x="59" y="692" width="1" height="39"/><rect x="67" y="690" width="1" height="41"/><rect x="75" y="689" width="1" height="42"/><rect x="83" y="687" width="1" height="44"/><rect x="91" y="687" width="1" height="44"/><rect x="99" y="688" width="1" height="43"/><rect x="107" y="692" width="1" height="39"/><rect x="115" y="696" width="1" height="35"/><rect x="123" y="700" width="1" height="31"/><rect x="131" y="703" width="1" height="28"/><rect x="139" y="705" width="1" height="26"/><rect x="147" y="708" width="1" height="23"/><rect x="155" y="712" width="1" height="19"/><rect x="163" y="717" width="1" height="14"/><rect x="171" y="722" width="1" height="9"/><rect x="179" y="727" width="1" height="4"/><rect x="187" y="729" width="1" height="2"/><rect x="195" y="728" width="1" height="3"/><rect x="203" y="729" width="1" height="2"/><rect x="211" y="729" width="1" height="2"/><rect x="219" y="728" width="1" height="3"/><rect x="227" y="729" width="1" height="2"/><rect x="243" y="730" width="1" height="1"/><rect x="283" y="730" width="1" height="1"/><rect x="291" y="730" width="1" height="1"/><rect x="307" y="730" width="1" height="1"/><rect x="315" y="729" width="1" height="2"/><rect x="323" y="729" width="1" height="2"/><rect x="331" y="729" width="1" height="2"/><rect x="339" y="729" width="1" height="2"/><rect x="347" y="729" width="1" height="2"/><rect x="355" y="729" width="1" height="2"/><rect x="363" y="729" width="1" height="2"/><rect x="371" y="729" width="1" height="2"/><rect x="379" y="728" width="1" height="3"/><rect x="387" y="727" width="1" height="4"/><rect x="395" y="728" width="1" height="3"/><rect x="403" y="726" width="1" height="5"/><rect x="411" y="724" width="1" height="7"/><rect x="419" y="721" width="1" height="10"/><rect x="427" y="718" width="1" height="13"/><rect x="435" y="716" width="1" height="15"/><rect x="443" y="715" width="1" height="16"/><rect x="451" y="713" width="1" height="18"/><rect x="459" y="709" width="1" height="22"/><rect x="467" y="705" width="1" height="26"/><rect x="475" y="698" width="1" height="33"/><rect x="483" y="692" width="1" height="39"/><rect x="491" y="687" width="1" height="44"/><rect x="499" y="687" width="1" height="44"/><rect x="507" y="686" width="1" height="45"/><rect x="515" y="685" width="1" height="46"/><rect x="523" y="684" width="1" height="47"/><rect x="531" y="685" width="1" height="46"/><rect x="539" y="684" width="1" height="47"/><rect x="547" y="686" width="1" height="45"/><rect x="555" y="691" width="1" height="40"/><rect x="563" y="695" width="1" height="36"/><rect x="571" y="699" width="1" height="32"/><rect x="579" y="706" width="1" height="25"/><rect x="587" y="714" width="1" height="17"/><rect x="595" y="722" width="1" height="9"/><rect x="611" y="730" width="1" height="10"/><rect x="619" y="730" width="1" height="17"/><rect x="627" y="730" width="1" height="19"/><rect x="635" y="730" width="1" height="19"/><rect x="643" y="730" width="1" height="21"/><rect x="651" y="730" width="1" height="17"/><rect x="659" y="730" width="1" height="14"/><rect x="667" y="730" width="1" height="14"/><rect x="675" y="730" width="1" height="13"/><rect x="683" y="730" width="1" height="10"/><rect x="691" y="730" width="1" height="7"/><rect x="699" y="730" width="1" height="4"/><rect x="707" y="728" width="1" height="3"/><rect x="715" y="723" width="1" height="8"/>
</g>
<g shape-rendering="crispEdges" fill="#cccccc">
<rect x="3" y="756" width="1" height="3"/><rect x="67" y="756" width="1" height="3"/><rect x="131" y="756" width="1" height="3"/><rect x="195" y="756" width="1" height="3"/><rect x="259" y="756" width="1" height="3"/><rect x="323" y="756" width="1" height="3"/><rect x="387" y="756" width="1" height="3"/><rect x="451" y="756" width="1" height="3"/><rect x="515" y="756" width="1" height="3"/><rect x="579" y="756" width="1" height="3"/><rect x="643" y="756" width="1" height="3"/><rect x="707" y="756" width="1" height="3"/>
</g>
<g>
<text x="2" y="768.5" textLength="52" lengthAdjust="spacingAndGlyphs">18 Sep 2017</text>
<text x="66" y="768.5" textLength="55" lengthAdjust="spacingAndGlyphs">18 Sep 14:15</text>
<text x="130" y="768.5" textLength="55" lengthAdjust="spacingAndGlyphs">18 Sep 16:15</text>
<text x="194" y="768.5" textLength="55" lengthAdjust="spacingAndGlyphs">18 Sep 18:15</text>
<text x="258" y="768.5" textLength="55" lengthAdjust="spacingAndGlyphs">18 Sep 20:15</text>
<text x="322" y="768.5" textLength="55" lengthAdjust="spacingAndGlyphs">18 Sep 22:15</text>
<text x="386" y="768.5" textLength="55" lengthAdjust="spacingAndGlyphs">19 Sep 00:15</text>
<text x="450" y="768.5" textLength="55" lengthAdjust="spacingAndGlyphs">19 Sep 02:15</text>
<text x="514" y="768.5" textLength="55" lengthAdjust="spacingAndGlyphs">19 Sep 04:15</text>
<text x="578" y="768.5" textLength="55" lengthAdjust="spacingAndGlyphs">19 Sep 06:15</text>
<text x="642" y="768.5" textLength="55" lengthAdjust="spacingAndGlyphs">19 Sep 08:15</text>
<text x="706" y="768.5" textLength="55" lengthAdjust="spacingAndGlyphs">19 Sep 10:15</text>
</g>
<path d="M6 9 h7 l-3.5 4 z" fill="#b8b8b8"/>
<text x="18.5" y="14" textLength="204" lengthAdjust="spacingAndGlyphs" xml:space="preserve" style="white-space:pre">EURTRY,M15  4.18910 4.19537 4.18876 4.19367</text>
<text x="8" y="681.5" textLength="55" lengthAdjust="spacingAndGlyphs">AO 0.003028</text>
<path d="M755.5 646.5 h3 v3 h3 v3 h-3 v5 h-3 v-5 h-3 v-3 h3 z" fill="#ffffff" stroke="#3a3a3a" stroke-width="1" shape-rendering="crispEdges"/>
</svg>
</body></html>
